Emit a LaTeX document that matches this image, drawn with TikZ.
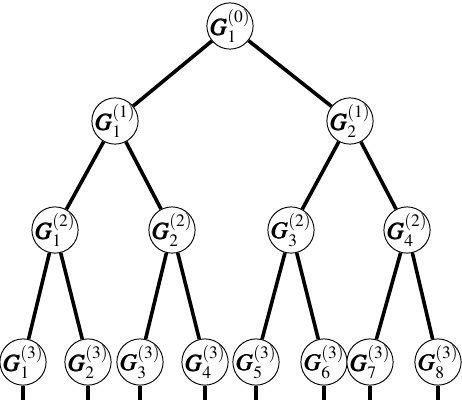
\documentclass[tikz,border=0pt]{standalone}
\usepackage{mathptmx}
\usepackage{bm}
\usetikzlibrary{positioning}
\tikzset{
  nodoArbol/.style={
    circle, draw=black, line width=0.5pt, fill=white,
    minimum size=24.5pt, inner sep=-1.5pt, font=\fontsize{12.5}{14}\selectfont
  },
  arista/.style={line width=1.9pt, black},
}

\begin{document}
\begin{tikzpicture}[x=0.53pt, y=-0.53pt]
    \useasboundingbox (0,0) rectangle (462,400);
    % raiz
    \node[nodoArbol] (r) at (230,26) {$\bm{G}_1^{(0)}$};
    % nivel 1
    \node[nodoArbol] (a1) at (115,121) {$\bm{G}_1^{(1)}$};
    \node[nodoArbol] (a2) at (350,121) {$\bm{G}_2^{(1)}$};
    % nivel 2
    \node[nodoArbol] (b1) at (55,230) {$\bm{G}_1^{(2)}$};
    \node[nodoArbol] (b2) at (172,230) {$\bm{G}_2^{(2)}$};
    \node[nodoArbol] (b3) at (291,230) {$\bm{G}_3^{(2)}$};
    \node[nodoArbol] (b4) at (407,230) {$\bm{G}_4^{(2)}$};
    % hojas
    \node[nodoArbol] (h1) at (23,362) {$\bm{G}_1^{(3)}$};
    \node[nodoArbol] (h2) at (88,362) {$\bm{G}_2^{(3)}$};
    \node[nodoArbol] (h3) at (140,362) {$\bm{G}_3^{(3)}$};
    \node[nodoArbol] (h4) at (205,362) {$\bm{G}_4^{(3)}$};
    \node[nodoArbol] (h5) at (256,362) {$\bm{G}_5^{(3)}$};
    \node[nodoArbol] (h6) at (324,362) {$\bm{G}_6^{(3)}$};
    \node[nodoArbol] (h7) at (370,362) {$\bm{G}_7^{(3)}$};
    \node[nodoArbol] (h8) at (438,362) {$\bm{G}_8^{(3)}$};
    % extremos de las ramas cortadas
    \coordinate (c1) at (23,400);
    \coordinate (c2) at (88,400);
    \coordinate (c3) at (140,400);
    \coordinate (c4) at (205,400);
    \coordinate (c5) at (256,400);
    \coordinate (c6) at (324,400);
    \coordinate (c7) at (370,400);
    \coordinate (c8) at (438,400);
    \draw[arista] (r) -- (a1);
    \draw[arista] (r) -- (a2);
    \draw[arista] (a1) -- (b1);
    \draw[arista] (a1) -- (b2);
    \draw[arista] (a2) -- (b3);
    \draw[arista] (a2) -- (b4);
    \draw[arista] (b1) -- (h1);
    \draw[arista] (b1) -- (h2);
    \draw[arista] (b2) -- (h3);
    \draw[arista] (b2) -- (h4);
    \draw[arista] (b3) -- (h5);
    \draw[arista] (b3) -- (h6);
    \draw[arista] (b4) -- (h7);
    \draw[arista] (b4) -- (h8);
    \draw[arista] (h1) -- (c1);
    \draw[arista] (h2) -- (c2);
    \draw[arista] (h3) -- (c3);
    \draw[arista] (h4) -- (c4);
    \draw[arista] (h5) -- (c5);
    \draw[arista] (h6) -- (c6);
    \draw[arista] (h7) -- (c7);
    \draw[arista] (h8) -- (c8);
  \end{tikzpicture}
\end{document}
